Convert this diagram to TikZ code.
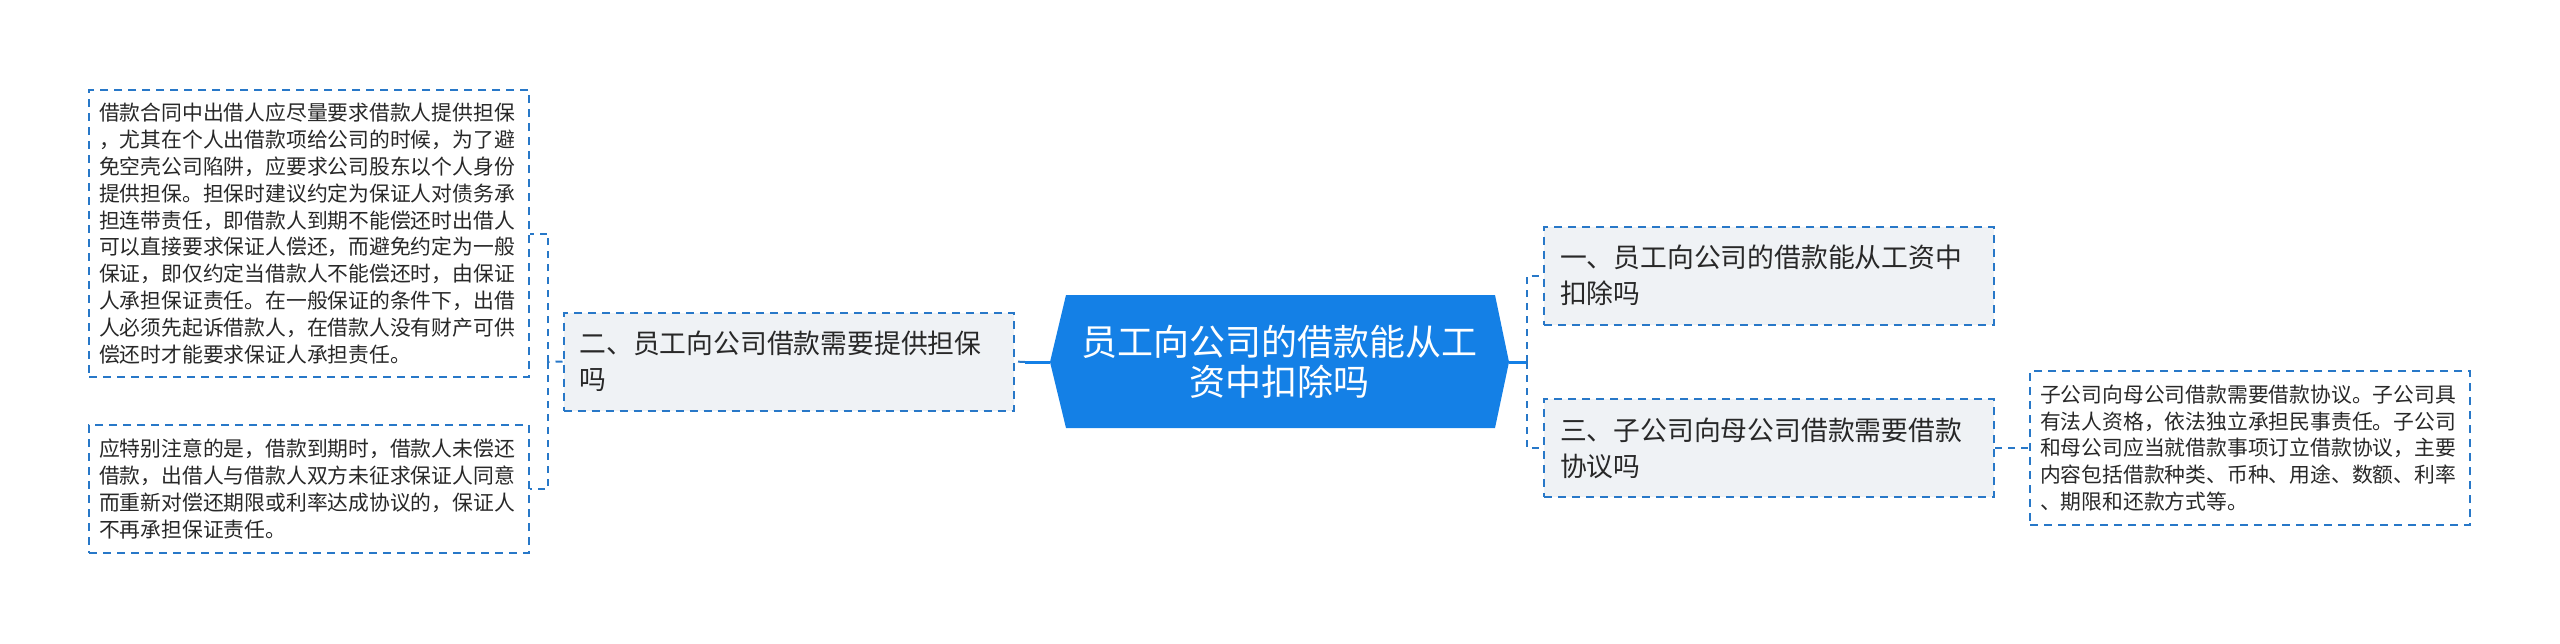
\documentclass[tikz,border=0pt]{standalone}
\usepackage{fontspec}
\setmainfont{Noto Sans CJK SC}
\usepackage{tikz}
\definecolor{rootblue}{RGB}{20,128,230}
\definecolor{linkblue}{RGB}{40,120,200}
\definecolor{boxgray}{RGB}{239,242,245}
\definecolor{textgray}{RGB}{40,40,40}

\begin{document}
\begin{tikzpicture}[x=0.5pt,y=-0.5pt,
                    root_node/.style={text=white, align=center, font=\fontsize{18pt}{20pt}\selectfont},
                    branch_node/.style={draw=linkblue, dashed, dash pattern=on 4pt off 3pt, line width=1pt, fill=boxgray, text=textgray,
                                        align=left, inner xsep=8pt, text width=209pt, minimum height=49pt,
                                        font=\fontsize{13.4pt}{18pt}\selectfont},
                    detail_node/.style={draw=linkblue, dashed, dash pattern=on 4pt off 3pt, line width=1pt, fill=white, text=textgray,
                                        align=left, inner xsep=5pt, text width=210pt,
                                        font=\fontsize{10.4pt}{13.4pt}\selectfont},
                    link/.style={draw=linkblue, line width=1pt, dash pattern=on 3.5pt off 3pt},
                    root_link/.style={draw=rootblue, line width=1.5pt}
                ]
                    \useasboundingbox (0,0) rectangle (2560,643);

                    % centre
                    \coordinate (rw) at (1050,362);
                    \coordinate (re) at (1509,362);
                    \fill[rootblue] (rw) -- (1066,295) -- (1495,295) -- (re) -- (1495,428) -- (1066,428) -- cycle;
                    \node[root_node] (root) at (1279.5,361.5) {员工向公司的借款能从工\\资中扣除吗};

                    % left side
                    \node[branch_node] (b2) at (788.5,361.5) {二、员工向公司借款需要提供担保\\吗};
                    \node[detail_node, minimum width=220pt, minimum height=143.5pt] (d1) at (309,233.5) {借款合同中出借人应尽量要求借款人提供担保\\，尤其在个人出借款项给公司的时候，为了避\\免空壳公司陷阱，应要求公司股东以个人身份\\提供担保。担保时建议约定为保证人对债务承\\担连带责任，即借款人到期不能偿还时出借人\\可以直接要求保证人偿还，而避免约定为一般\\保证，即仅约定当借款人不能偿还时，由保证\\人承担保证责任。在一般保证的条件下，出借\\人必须先起诉借款人，在借款人没有财产可供\\偿还时才能要求保证人承担责任。};
                    \node[detail_node, minimum width=220pt, minimum height=64pt] (d2) at (309,489) {应特别注意的是，借款到期时，借款人未偿还\\借款，出借人与借款人双方未征求保证人同意\\而重新对偿还期限或利率达成协议的，保证人\\不再承担保证责任。};

                    % right side
                    \node[branch_node, minimum width=223pt] (b1) at (1769,275.5) {一、员工向公司的借款能从工资中\\扣除吗};
                    \node[branch_node, minimum width=223pt] (b3) at (1769,448) {三、子公司向母公司借款需要借款\\协议吗};
                    \node[detail_node, minimum width=220pt, minimum height=77pt] (d3) at (2250,448) {子公司向母公司借款需要借款协议。子公司具\\有法人资格，依法独立承担民事责任。子公司\\和母公司应当就借款事项订立借款协议，主要\\内容包括借款种类、币种、用途、数额、利率\\、期限和还款方式等。};

                    % connectors
                    \coordinate (lj) at (548,362);
                    \coordinate (rj) at (1527,362);
                    \draw[root_link] (rw) -- (1025,362);
                    \draw[link] (1025,362) -- (b2.east);
                    \draw[link] (b2.west) -- (lj);
                    \draw[link] (lj) |- (d1.east);
                    \draw[link] (lj) |- (d2.east);
                    \draw[root_link] (re) -- (rj);
                    \draw[link] (rj) |- (b1.west);
                    \draw[link] (rj) |- (b3.west);
                    \draw[link] (b3.east) -- (d3.west);
                \end{tikzpicture}
\end{document}
